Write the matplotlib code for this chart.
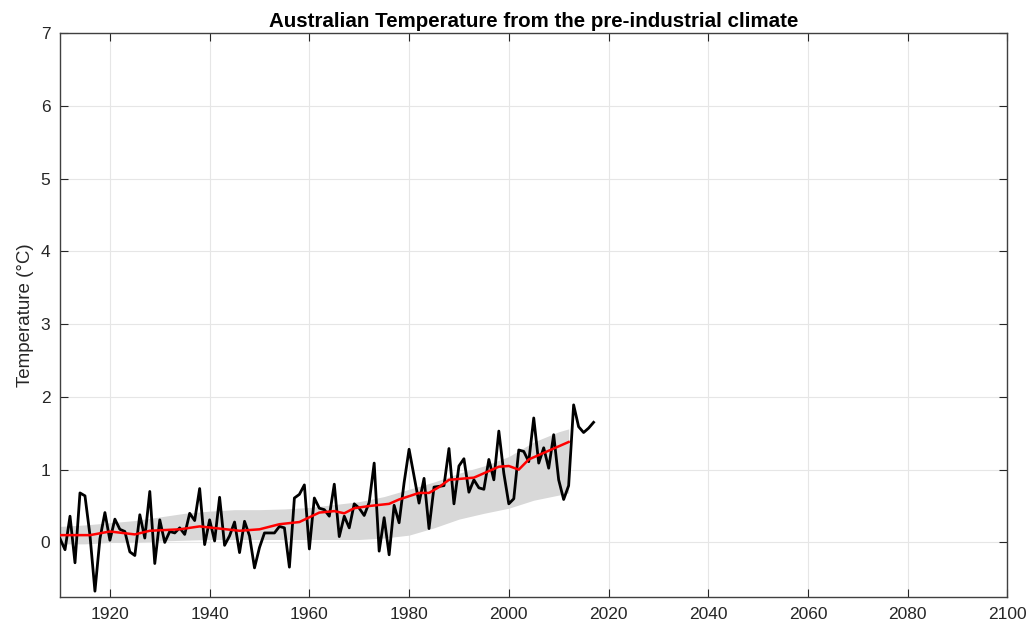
import numpy as np
import matplotlib
matplotlib.use("Agg")
import matplotlib.pyplot as plt

plt.rcParams['font.family'] = ['Liberation Sans', 'DejaVu Sans']

# Annual mean temperature relative to the pre-industrial climate (°C), 1910-2017
years = list(range(1910, 2018))
annual_temp = [
    0.05, -0.10, 0.36, -0.28, 0.68, 0.64, 0.10, -0.67, 0.05, 0.41,   # 1910s
    0.03, 0.32, 0.18, 0.15, -0.13, -0.18, 0.38, 0.06, 0.70, -0.29,   # 1920s
    0.31, 0.00, 0.15, 0.13, 0.20, 0.11, 0.40, 0.30, 0.74, -0.03,     # 1930s
    0.31, 0.02, 0.62, -0.04, 0.09, 0.28, -0.14, 0.29, 0.09, -0.35,   # 1940s
    -0.07, 0.13, 0.13, 0.13, 0.22, 0.20, -0.34, 0.61, 0.66, 0.79,    # 1950s
    -0.09, 0.61, 0.47, 0.45, 0.36, 0.80, 0.08, 0.36, 0.20, 0.53,     # 1960s
    0.47, 0.37, 0.55, 1.09, -0.12, 0.34, -0.17, 0.51, 0.27, 0.82,    # 1970s
    1.28, 0.91, 0.54, 0.88, 0.19, 0.76, 0.77, 0.78, 1.29, 0.53,      # 1980s
    1.05, 1.15, 0.69, 0.86, 0.75, 0.73, 1.14, 0.86, 1.53, 0.95,      # 1990s
    0.53, 0.60, 1.27, 1.25, 1.11, 1.71, 1.09, 1.30, 1.02, 1.48,      # 2000s
    0.86, 0.59, 0.78, 1.89, 1.59, 1.51, 1.57, 1.65,                  # 2010s
]

# Smoothed trend
trend_years = [1910, 1916, 1920, 1925, 1928, 1934, 1938, 1942, 1946, 1950,
               1954, 1958, 1962, 1965, 1967, 1969, 1972, 1976, 1978, 1982,
               1984, 1986, 1988, 1993, 1996, 1998, 2000, 2002, 2004, 2008, 2012]
trend_temp = [0.10, 0.10, 0.15, 0.11, 0.16, 0.18, 0.22, 0.19, 0.16, 0.18,
              0.25, 0.28, 0.41, 0.43, 0.40, 0.47, 0.50, 0.53, 0.59, 0.68,
              0.68, 0.76, 0.86, 0.89, 0.98, 1.04, 1.05, 1.00, 1.14, 1.26, 1.38]

# Model range envelope
band_years = [1910, 1915, 1920, 1925, 1930, 1935, 1940, 1945, 1950, 1955,
              1960, 1965, 1970, 1975, 1980, 1985, 1990, 1995, 2000, 2005, 2010, 2012]
band_low = [-0.02, -0.02, 0.00, 0.00, 0.02, 0.03, 0.04, 0.04, 0.04, 0.04,
            0.04, 0.04, 0.04, 0.06, 0.10, 0.20, 0.32, 0.40, 0.47, 0.58, 0.65, 0.68]
band_high = [0.22, 0.24, 0.27, 0.30, 0.35, 0.40, 0.43, 0.45, 0.45, 0.46,
             0.48, 0.52, 0.56, 0.63, 0.73, 0.83, 0.95, 1.05, 1.18, 1.38, 1.52, 1.56]

x_ticks = list(range(1920, 2101, 20))
y_ticks = list(range(0, 8))

fig = plt.figure(figsize=(10.28, 6.29), dpi=100)
ax = fig.add_axes([0.0584, 0.0509, 0.9216, 0.8966])

ax.fill_between(band_years, band_low, band_high, color='#d8d8d8', lw=0, zorder=1)
ax.plot(years, annual_temp, color='black', lw=2.0, zorder=3)
ax.plot(trend_years, trend_temp, color='#ff0000', lw=1.8, zorder=4)

ax.set_xlim(1910, 2100)
ax.set_ylim(-0.75, 7)
ax.set_xticks(x_ticks)
ax.set_yticks(y_ticks)
ax.grid(True, color='#e6e6e6', lw=0.8, zorder=0)
ax.set_axisbelow(True)
ax.tick_params(direction='in', length=6, width=0.8, colors='#262626',
               labelsize=12.5, top=True, right=True, pad=7)
for s in ax.spines.values():
    s.set_color('#404040')
    s.set_linewidth(1.0)

ax.set_ylabel('Temperature (°C)', fontsize=13.5, labelpad=5, color='#262626')
ax.set_title('Australian Temperature from the pre-industrial climate',
             fontsize=14.8, fontweight='bold', pad=4)

fig.savefig('out.png', dpi=100, facecolor='white')
